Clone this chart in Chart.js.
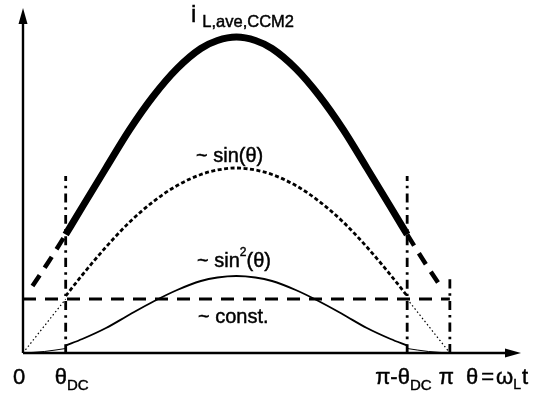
<!DOCTYPE html>
<html>
<head>
<meta charset="utf-8">
<script src="https://cdn.jsdelivr.net/npm/chart.js@4.4.1/dist/chart.umd.min.js"></script>
<style>
  html, body { margin: 0; padding: 0; background: #fff; }
  canvas { display: block; }
</style>
</head>
<body>
<canvas id="chart" width="552" height="401"></canvas>
<script>
// theta in degrees, all heights share one arbitrary unit
const constLevel = 54;

const thetaMid = [18, 25, 35, 45, 55, 65, 75, 82, 90, 98, 105, 115, 125, 135, 145, 155, 162];
const sinMid   = [57, 78, 106, 131, 151.5, 167.5, 178.5, 183, 185, 183, 178.5, 167.5, 151.5, 131, 106, 78, 57];
const sin2Mid  = [7.5, 14, 25, 38.5, 51.5, 63, 72, 75.5, 77, 75.5, 72, 63, 51.5, 38.5, 25, 14, 7.5];
const totalMid = [118.5, 146, 185, 223.5, 257, 284.5, 304.5, 312.5, 316, 312.5, 304.5, 284.5, 257, 223.5, 185, 146, 118.5];

// dashed continuation of the total current outside the window
const thetaTailL = [4, 11, 18];
const totalTailL = [67, 92, 118.5];
const thetaTailR = [162, 169, 176];
const totalTailR = [118.5, 92, 67];

// faint pieces before theta_DC and after pi - theta_DC
const thetaEdgeL = [0, 9, 18];
const thetaEdgeR = [162, 171, 180];
const sinEdgeL  = [0, 27, 54];
const sinEdgeR  = [54, 27, 0];
const sin2EdgeL = [0, 1.5, 4.5];
const sin2EdgeR = [4.5, 1.5, 0];

const constTheta = [0, 180];
const markerTheta = [18, 162, 180];
const markerTop = [177, 177, 76];

const tickTheta = [0, 18, 162, 180];
const tickMain = ['0', 'θ', 'π-θ', 'π'];
const tickSub = ['', 'DC', 'DC', ''];
const tickShift = [-10, -11, -32, -11];

const FONT = '"Liberation Sans", Arial, Helvetica, sans-serif';

const pts = (xs, ys) => xs.map((x, i) => ({ x, y: ys[i] }));

function line(data, width, dash, extra) {
  return Object.assign({
    data,
    borderColor: '#000',
    borderWidth: width,
    borderDash: dash || [],
    pointRadius: 0,
    fill: false,
    cubicInterpolationMode: 'monotone',
  }, extra || {});
}

const datasets = [
  line(pts(thetaMid, totalMid), 7, null, { borderCapStyle: 'butt' }),
  line(pts(thetaTailL, totalTailL), 4.5, [13, 9]),
  line(pts(thetaTailR, totalTailR), 4.5, [13, 9]),
  line(pts(thetaMid, sinMid), 2.8, [4, 2.5]),
  line(pts(thetaEdgeL, sinEdgeL), 1.2, [1.5, 2.5]),
  line(pts(thetaEdgeR, sinEdgeR), 1.2, [1.5, 2.5]),
  line(pts(thetaMid, sin2Mid), 1.9),
  line(pts(thetaEdgeL, sin2EdgeL), 1),
  line(pts(thetaEdgeR, sin2EdgeR), 1),
  line(pts(constTheta, constTheta.map(() => constLevel)), 2.8, [13, 9]),
];

markerTheta.forEach((t, i) => {
  datasets.push(line(pts([t, t], [0, markerTop[i]]), 2.8, [9, 5, 2.5, 5]));
});

// text with an optional subscript / superscript run, lightly stroked
function rich(ctx, x, y, parts) {
  let cx = x;
  parts.forEach((p) => {
    ctx.font = `${p.size}px ${FONT}`;
    ctx.fillText(p.t, cx, y + (p.dy || 0));
    ctx.strokeText(p.t, cx, y + (p.dy || 0));
    cx += ctx.measureText(p.t).width + (p.gap || 0);
  });
}

const axesAndText = {
  id: 'axesAndText',
  afterDatasetsDraw(chart) {
    const { ctx, chartArea: a, scales } = chart;
    ctx.save();
    ctx.strokeStyle = '#000';
    ctx.fillStyle = '#000';
    ctx.lineWidth = 2.4;

    // y axis with arrow
    ctx.beginPath();
    ctx.moveTo(a.left, a.bottom);
    ctx.lineTo(a.left, a.top + 12);
    ctx.stroke();
    ctx.beginPath();
    ctx.moveTo(a.left, a.top);
    ctx.lineTo(a.left - 4.5, a.top + 16);
    ctx.lineTo(a.left + 4.5, a.top + 16);
    ctx.closePath();
    ctx.fill();

    // x axis with arrow
    ctx.beginPath();
    ctx.moveTo(a.left, a.bottom);
    ctx.lineTo(a.right - 12, a.bottom);
    ctx.stroke();
    ctx.beginPath();
    ctx.moveTo(a.right, a.bottom);
    ctx.lineTo(a.right - 16, a.bottom - 4.5);
    ctx.lineTo(a.right - 16, a.bottom + 4.5);
    ctx.closePath();
    ctx.fill();

    ctx.textBaseline = 'alphabetic';
    ctx.textAlign = 'left';
    ctx.lineWidth = 0.45;

    // tick labels along theta
    tickTheta.forEach((t, i) => {
      const px = scales.x.getPixelForValue(t) + tickShift[i];
      const parts = [{ t: tickMain[i], size: 22 }];
      if (tickSub[i]) parts.push({ t: tickSub[i], size: 15, dy: 6 });
      rich(ctx, px, 384, parts);
    });
    rich(ctx, 466, 384, [
      { t: 'θ', size: 22, gap: 3 },
      { t: '=', size: 22, gap: 2 },
      { t: 'ω', size: 22 },
      { t: 'L', size: 14, dy: 5, gap: 1 },
      { t: 't', size: 22 },
    ]);

    // curve names
    rich(ctx, 191, 22, [{ t: 'i', size: 24, gap: 6 }, { t: 'L,ave,CCM2', size: 16.5, dy: 5 }]);
    rich(ctx, 196, 162, [{ t: '~ sin(θ)', size: 20 }]);
    rich(ctx, 197, 267, [
      { t: '~ sin', size: 20 },
      { t: '2', size: 12, dy: -11 },
      { t: '(θ)', size: 20 },
    ]);
    rich(ctx, 198, 323, [{ t: '~ const.', size: 20 }]);

    ctx.restore();
  },
};

new Chart(document.getElementById('chart'), {
  type: 'line',
  data: { datasets },
  options: {
    responsive: false,
    animation: false,
    devicePixelRatio: 1,
    layout: { padding: { left: 23, right: 31, top: 8, bottom: 48 } },
    scales: {
      x: { type: 'linear', min: 0, max: 210, display: false },
      y: { type: 'linear', min: 0, max: 345, display: false },
    },
    plugins: {
      legend: { display: false },
      tooltip: { enabled: false },
    },
  },
  plugins: [axesAndText],
});
</script>
</body>
</html>
